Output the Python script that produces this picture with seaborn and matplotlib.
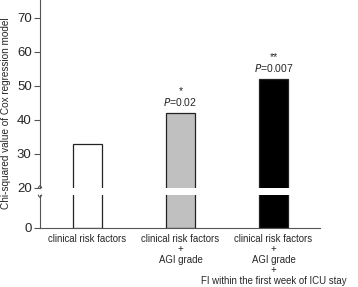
import numpy as np
import seaborn as sns
import matplotlib.pyplot as plt

# data
models = ["clinical risk factors",
          "clinical risk factors\n+\nAGI grade",
          "clinical risk factors\n+\nAGI grade\n+\nFI within the first week of ICU stay"]
chi2 = [33, 42, 52]
stars = ["", "*", "**"]
pvals = ["", "0.02", "0.007"]
colors = ["white", "#c0c0c0", "black"]

sns.set_style("white")
plt.rcParams['font.family'] = ['Liberation Sans', 'DejaVu Sans']

W, H = 358, 287
fig = plt.figure(figsize=(W / 100, H / 100), dpi=100)
# broken y axis: upper part 20..top, lower part 0..20 squeezed
ax_top = fig.add_axes([40 / W, 1 - 188 / H, 280 / W, 188 / H])
ax_bot = fig.add_axes([40 / W, 1 - 228 / H, 280 / W, 33 / H])

for ax in (ax_top, ax_bot):
    sns.barplot(x=models, y=chi2, hue=models, palette=colors, legend=False,
                width=0.31, edgecolor="#222222", linewidth=0.9, ax=ax)
    ax.set_xlim(-0.51, 2.5)
    for s in ["top", "right"]:
        ax.spines[s].set_visible(False)
    ax.spines["left"].set_color("#555555")
    ax.spines["bottom"].set_color("#555555")
    ax.tick_params(axis="y", left=True, length=4, width=0.8, color="#555555",
                   labelsize=9.5, pad=2)
    ax.tick_params(axis="x", bottom=False, length=0)
    ax.set_xlabel("")
    ax.set_ylabel("")

ax_top.set_ylim(20, 20 + 188 / 3.4)
ax_top.set_yticks([20, 30, 40, 50, 60, 70])
ax_top.spines["bottom"].set_visible(False)
ax_top.set_xticks([])

ax_bot.set_ylim(0, 15)
ax_bot.set_yticks([0])
ax_bot.set_xticks(range(len(models)))
ax_bot.set_xticklabels(models, fontsize=6.9, linespacing=1.08)
ax_bot.tick_params(axis="x", pad=4)

ax_top.set_ylabel("Chi-squared value of Cox regression model", fontsize=7.2)
ax_top.yaxis.set_label_coords(-0.105, 0.40)

# significance labels
for i, (s, p) in enumerate(zip(stars, pvals)):
    if not s:
        continue
    ax_top.text(i, chi2[i] + 1.5, s + "\n$\\it{P}$=" + p, ha="center",
                va="bottom", fontsize=7.5, linespacing=1.0)

# break marks on the spine
t = np.linspace(0, 1, 20)
ax_top.plot(-0.006 + 0.012 * t, 0.012 * np.sin(np.pi * t),
            transform=ax_top.transAxes, color="#555555", lw=0.8, clip_on=False)
ax_bot.plot(-0.006 + 0.012 * t, 1 - 0.07 * np.sin(np.pi * t),
            transform=ax_bot.transAxes, color="#555555", lw=0.8, clip_on=False)

fig.savefig("out.png", dpi=100)
